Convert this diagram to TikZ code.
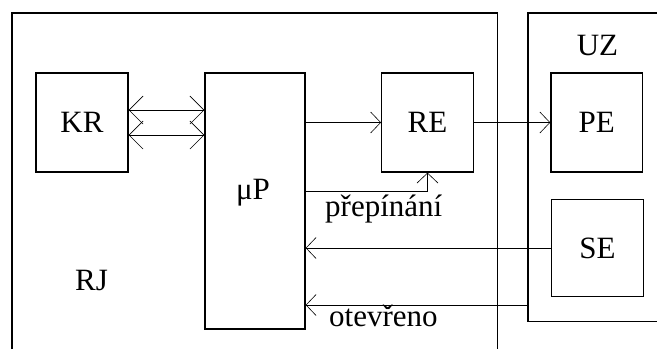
\documentclass[tikz,border=0pt]{standalone}
\usepackage{fontspec}
\setmainfont{Liberation Serif}
\usetikzlibrary{arrows.meta}
\begin{document}
\begin{tikzpicture}[x=1pt,y=-1pt,
  txt/.style={font=\fontsize{31}{31}\selectfont},
  box/.style={draw, line width=1.3pt, inner sep=0pt, txt},
  lbl/.style={inner sep=0pt, txt},
  frame/.style={line width=1.3pt},
  conn/.style={line width=0.8pt},
  tipS/.style={-{Straight Barb[length=10pt,width=21pt,line width=0.6pt]}},
  tipD/.style={{Straight Barb[length=14pt,width=28pt,line width=0.6pt]}-{Straight Barb[length=14pt,width=28pt,line width=0.6pt]}}
]
\useasboundingbox (0,0) rectangle (657,349);
% frames
\draw[frame] (12,349) -- (12,13) -- (497.7,13) -- (497.7,349);
\draw[frame] (657,13) -- (528,13) -- (528,321.7) -- (657,321.7);
% boxes
\node[box, minimum width=92pt, minimum height=99pt] (kr) at (82,122.5) {KR};
\node[box, minimum width=100pt, minimum height=256pt] (mp) at (255,201) {};
\node[box, minimum width=91.6pt, minimum height=99pt] (re) at (427.5,122.5) {RE};
\node[box, minimum width=91.7pt, minimum height=99pt] (pe) at (596.8,122.5) {PE};
\node[box, minimum width=91.6pt, minimum height=97.4pt] (se) at (597.5,248) {SE};
% labels
\node[lbl, anchor=base] (mpl) at (253,199) {μP};
\node[lbl, anchor=base] (rj) at (91.5,290) {RJ};
\node[lbl, anchor=base] (uz) at (597.5,55) {UZ};
\node[lbl, anchor=base west] (pr) at (325,216.7) {přepínání};
\node[lbl, anchor=base west] (ot) at (329,326.7) {otevřeno};
% helper coordinates
\coordinate (ya) at (0,110);
\coordinate (yb) at (0,135);
\coordinate (yc) at (0,191.7);
\coordinate (uzl) at (528,305);
% connectors
\draw[conn, tipD] (kr.east |- ya) -- (mp.west |- ya);
\draw[conn, tipD] (kr.east |- yb) -- (mp.west |- yb);
\draw[conn, tipS] (mp.east |- re.west) -- (re.west);
\draw[conn, tipS] (re.east) -- (pe.west);
\draw[conn, tipS] (mp.east |- yc) -| (re.south);
\draw[conn, tipS] (se.west) -- (mp.east |- se.west);
\draw[conn, tipS] (uzl) -- (mp.east |- uzl);
\end{tikzpicture}
\end{document}
